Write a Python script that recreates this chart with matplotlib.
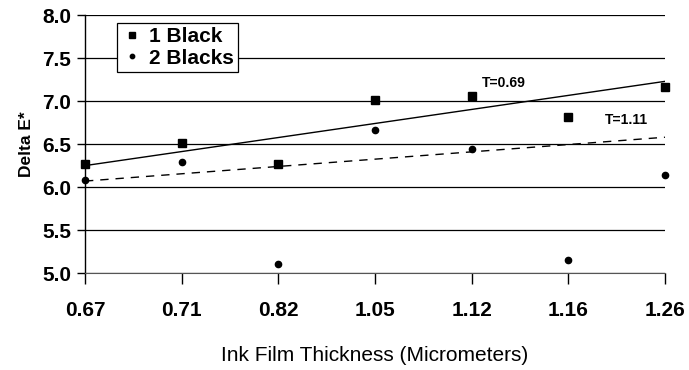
import matplotlib
matplotlib.use("Agg")
import matplotlib.pyplot as plt
import numpy as np

plt.rcParams["font.family"] = ["Liberation Sans", "DejaVu Sans"]

THICKNESS = ["0.67", "0.71", "0.82", "1.05", "1.12", "1.16", "1.26"]
ONE_BLACK = [6.27, 6.51, 6.27, 7.01, 7.06, 6.81, 7.16]
TWO_BLACKS = [6.08, 6.29, 5.10, 6.66, 6.44, 5.15, 6.14]
# trend line end values (first and last thickness)
TREND_ONE = [6.25, 7.23]
TREND_TWO = [6.07, 6.58]
TREND_LABELS = ["T=0.69", "T=1.11"]
Y_TICKS = [5.0, 5.5, 6.0, 6.5, 7.0, 7.5, 8.0]

fig = plt.figure(figsize=(6.89, 3.70), dpi=100)
ax = fig.add_axes([0.1234, 0.262, 0.8417, 0.697])

x = np.arange(len(THICKNESS))
ends = [x[0], x[-1]]

for yv in Y_TICKS:
    ax.axhline(yv, color="black", linewidth=0.9, zorder=1)

ax.plot(ends, TREND_ONE, color="black", linewidth=1.0, zorder=2)
ax.plot(ends, TREND_TWO, color="black", linewidth=1.0, linestyle=(0, (6, 5)), zorder=2)

ax.plot(x, ONE_BLACK, linestyle="none", marker="s", markersize=6, color="black",
        label="1 Black", zorder=3, clip_on=False)
ax.plot(x, TWO_BLACKS, linestyle="none", marker="o", markersize=4.5, color="black",
        label="2 Blacks", zorder=3, clip_on=False)

ax.text(4.33, 7.21, TREND_LABELS[0], fontsize=10, fontweight="bold", ha="center", va="center")
ax.text(5.6, 6.78, TREND_LABELS[1], fontsize=10, fontweight="bold", ha="center", va="center")

ax.set_xlim(x[0], x[-1])
ax.set_ylim(5.0, 8.0)
ax.set_xticks(x)
ax.set_xticklabels(THICKNESS)
ax.set_yticks(Y_TICKS)
ax.set_yticklabels([f"{v:.1f}" for v in Y_TICKS])
ax.tick_params(axis="both", labelsize=15, direction="out", width=1.0)
ax.tick_params(axis="x", length=8, pad=12)
ax.tick_params(axis="y", length=6, pad=4)
for lbl in ax.get_xticklabels() + ax.get_yticklabels():
    lbl.set_fontweight("bold")

for side in ["top", "right"]:
    ax.spines[side].set_visible(False)
ax.spines["left"].set_linewidth(1.0)
ax.spines["bottom"].set_color("#555555")

ax.set_xlabel("Ink Film Thickness (Micrometers)", fontsize=15, labelpad=19)
ax.set_ylabel("Delta E*", fontsize=12.5, fontweight="bold", labelpad=6)

leg = ax.legend(loc="upper left", bbox_to_anchor=(0.055, 0.97), borderaxespad=0,
                fontsize=15, frameon=True, fancybox=False, edgecolor="black",
                framealpha=1.0, markerscale=0.7, handlelength=1.0, handletextpad=0.35,
                borderpad=0.2, labelspacing=0.12)
leg.get_frame().set_linewidth(0.9)
for t in leg.get_texts():
    t.set_fontweight("bold")

fig.savefig("out.png", dpi=100)
